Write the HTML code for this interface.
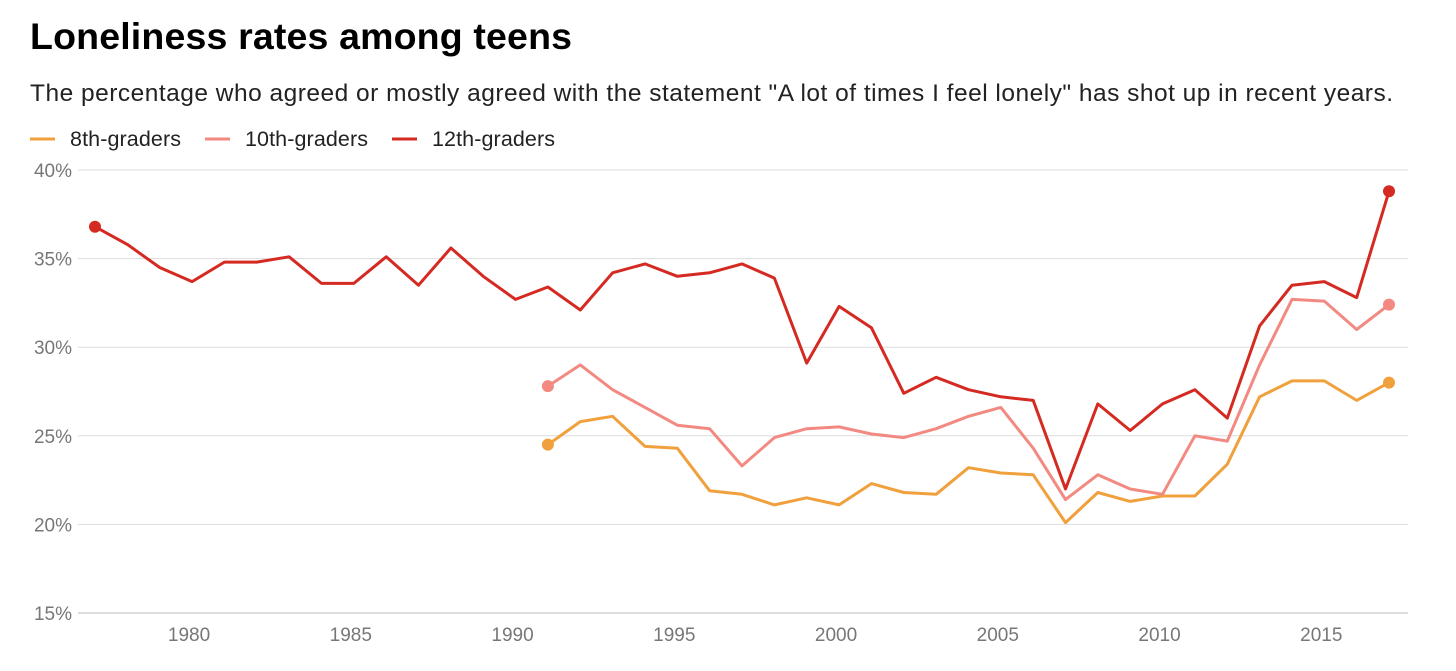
<!DOCTYPE html>
<html><head><meta charset="utf-8"><style>
body{margin:0;background:#fff;font-family:"Liberation Sans",sans-serif;}
</style></head><body>
<svg width="1456" height="666" xmlns="http://www.w3.org/2000/svg">
<text x="30" y="49" font-size="37.5" font-weight="bold" fill="#000" textLength="542">Loneliness rates among teens</text>
<text x="30" y="101" font-size="24.5" fill="#222" textLength="1363">The percentage who agreed or mostly agreed with the statement "A lot of times I feel lonely" has shot up in recent years.</text>
<g id="legend"></g>
<g id="grid"></g><g id="series"></g>
</svg>
<script>
const years=[];for(let y=1977;y<=2017;y++)years.push(y);
const yTicks=[15,20,25,30,35,40];
const xTicks=[1980,1985,1990,1995,2000,2005,2010,2015];
const names=["8th-graders","10th-graders","12th-graders"];
const colors=["#f0a03c","#f28a82","#d42a22"];
const g8=[24.5,25.8,26.1,24.4,24.3,21.9,21.7,21.1,21.5,21.1,22.3,21.8,21.7,23.2,22.9,22.8,20.1,21.8,21.3,21.6,21.6,23.4,27.2,28.1,28.1,27.0,28.0];
const g10=[27.8,29.0,27.6,26.6,25.6,25.4,23.3,24.9,25.4,25.5,25.1,24.9,25.4,26.1,26.6,24.3,21.4,22.8,22.0,21.7,25.0,24.7,29.0,32.7,32.6,31.0,32.4];
const g12=[36.8,35.8,34.5,33.7,34.8,34.8,35.1,33.6,33.6,35.1,33.5,35.6,34.0,32.7,33.4,32.1,34.2,34.7,34.0,34.2,34.7,33.9,29.1,32.3,31.1,27.4,28.3,27.6,27.2,27.0,22.0,26.8,25.3,26.8,27.6,26.0,31.2,33.5,33.7,32.8,38.8];
const NS="http://www.w3.org/2000/svg";
const X=y=>95+(y-1977)*32.35;
const Y=v=>613-(v-15)*17.72;
function mk(t,a,p){const e=document.createElementNS(NS,t);for(const k in a)e.setAttribute(k,a[k]);p.appendChild(e);return e;}
const grid=document.getElementById('grid');
yTicks.forEach(v=>{
 const l=mk('line',{x1:78,x2:1408,y1:Y(v),y2:Y(v),stroke:v==15?'#bbb':'#ddd','stroke-width':1},grid);
 
 
 const t=mk('text',{x:72,y:Y(v)+7,'text-anchor':'end','font-size':19,fill:'#777'},grid);t.textContent=v+'%';
 
 
});
xTicks.forEach(v=>{
 const t=mk('text',{x:X(v)-3,y:641,'text-anchor':'middle','font-size':19,fill:'#777'},grid);t.textContent=v;
 
 
});
const leg=document.getElementById('legend');
const lx=[30,205,392];
names.forEach((n,i)=>{
 mk('line',{x1:lx[i],x2:lx[i]+25,y1:139,y2:139,stroke:colors[i],'stroke-width':3},leg);
 const t=mk('text',{x:lx[i]+40,y:146,'font-size':21.5,fill:'#222',textLength:i==0?111:123},leg);t.textContent=n;
 
 
});
const ser=document.getElementById('series');
[[g8,1991],[g10,1991],[g12,1977]].forEach(([d,s],i)=>{
 const pts=d.map((v,j)=>X(s+j).toFixed(1)+','+Y(v).toFixed(1)).join(' ');
 const p=mk('polyline',{points:pts,fill:'none',stroke:colors[i],'stroke-width':3,'stroke-linejoin':'round'},ser);
 
 
 [0,d.length-1].forEach(j=>{
  const c=mk('circle',{cx:X(s+j),cy:Y(d[j]),r:6,fill:colors[i]},ser);
  
  
 });
});
</script>
</body></html>
